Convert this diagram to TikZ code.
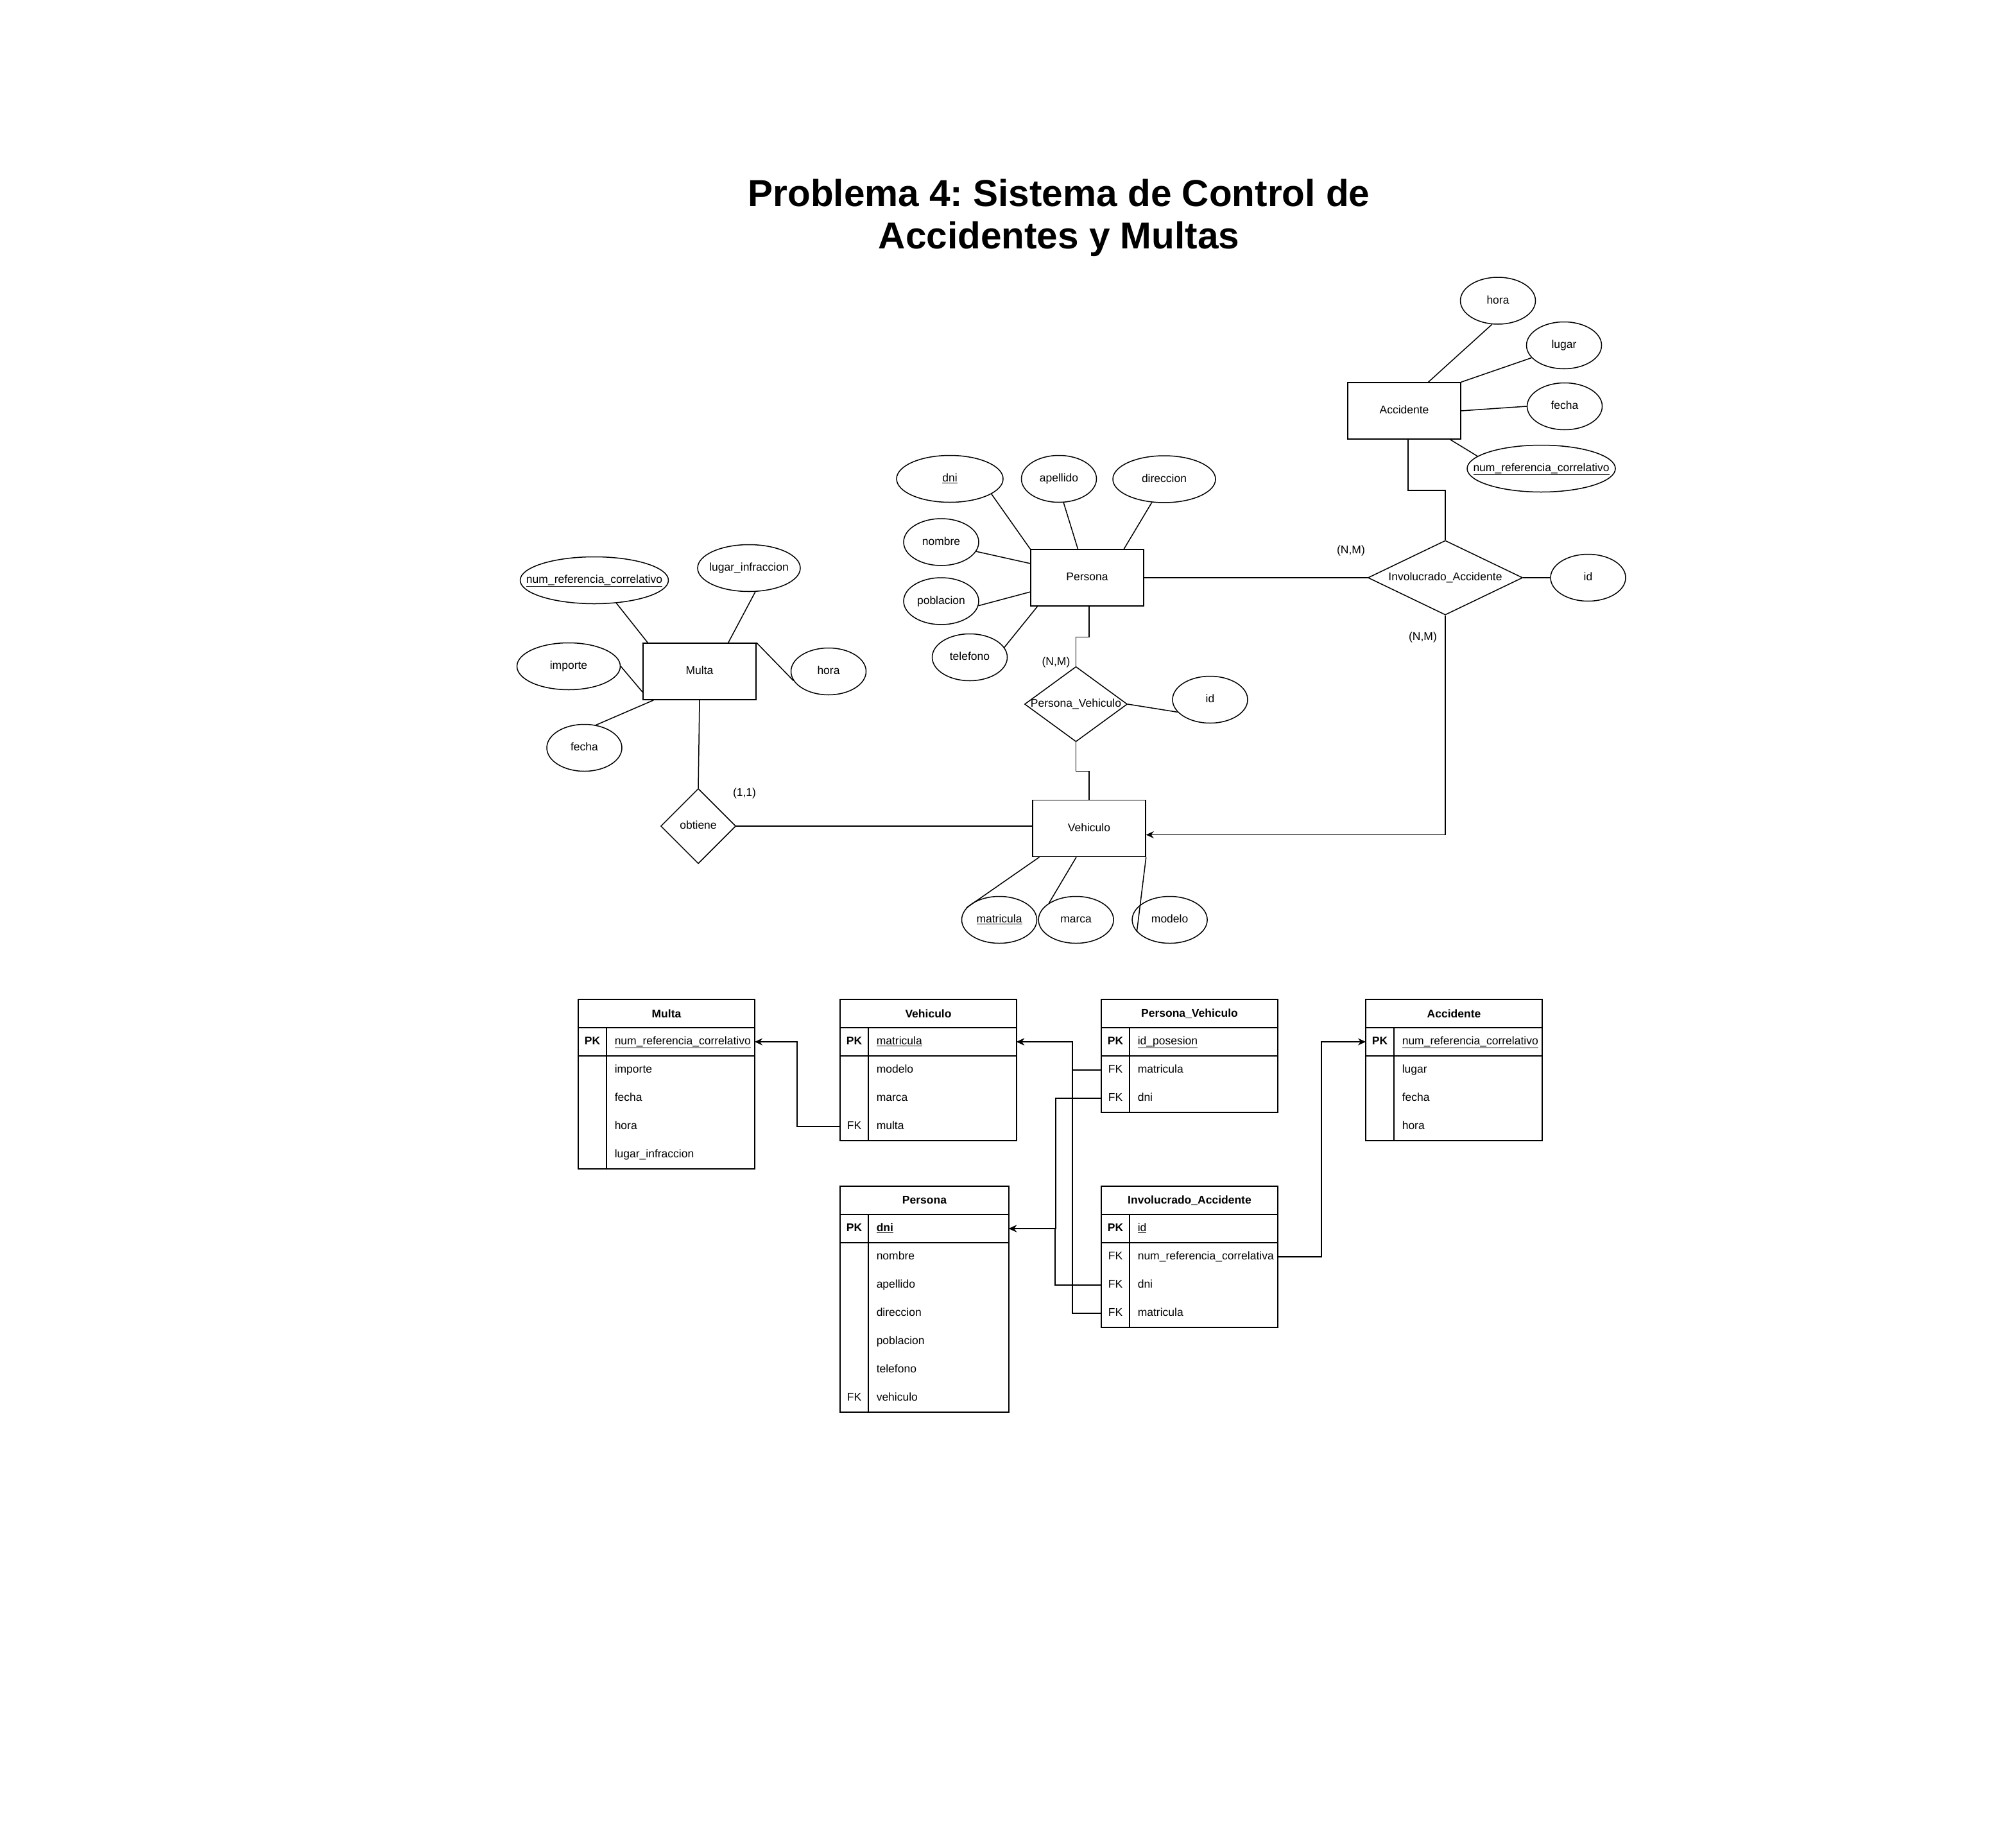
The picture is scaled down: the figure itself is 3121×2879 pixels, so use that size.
\documentclass[tikz,border=0pt]{standalone}
\usepackage{fontspec}
\setmainfont{Liberation Sans}
\frenchspacing
\usetikzlibrary{arrows.meta, positioning, shapes.geometric, calc}

\begin{document}
\begin{tikzpicture}[
    x=1pt, y=-1pt,
    line width=1.5pt,
    every node/.style={font=\fontsize{17.5}{21}\selectfont, align=center},
    entity/.style={draw, rectangle, fill=white, minimum width=176pt, minimum height=88pt,
                   inner sep=0pt, text height=13pt, text depth=4pt},
    attr/.style={draw, ellipse, fill=white, minimum width=117pt, minimum height=73pt,
                 inner sep=0pt, text height=13pt, text depth=4pt},
    rel/.style={draw, diamond, fill=white, inner sep=0pt, text height=13pt, text depth=4pt},
    card/.style={inner sep=0pt},
    tabhead/.style={draw, minimum width=275pt, minimum height=44pt, inner sep=0pt, outer sep=0pt,
                    font=\fontsize{17.5}{21}\selectfont\bfseries},
    keycell/.style={anchor=north west, minimum width=44pt, minimum height=44pt,
                    inner sep=0pt, outer sep=0pt, text height=13pt, text depth=4pt},
    fieldcell/.style={anchor=west, inner xsep=12pt, inner ysep=0pt,
                      text height=13pt, text depth=4pt},
    fk/.style={-{Stealth[length=12pt, width=11pt, inset=4pt]}}
]
\useasboundingbox (0,0) rectangle (3121,2879);

% title
\node[font=\fontsize{58.5}{66}\selectfont\bfseries, inner sep=0pt] (title) at (1650,339)
    {Problema 4: Sistema de Control de\\Accidentes y Multas};

% entities
\node[entity] (mu) at (1090,1046) {Multa};
\node[entity] (pe) at (1694,900) {Persona};
\node[entity] (ac) at (2188,640) {Accidente};
\node[entity] (ve) at (1697,1290.5) {Vehiculo};

% relationships
\node[rel, minimum width=117pt, minimum height=117pt] (ob) at (1088,1287) {obtiene};
\node[rel, minimum width=160pt, minimum height=117pt] (pv) at (1676.5,1097) {\makebox[0pt]{Persona\_Vehiculo}};
\node[rel, minimum width=241pt, minimum height=116pt] (ia) at (2252,900) {\makebox[0pt]{Involucrado\_Accidente}};

% attributes of Multa
\node[attr, minimum width=231pt] (mref) at (926,904) {\makebox[0pt]{\underline{num\_referencia\_correlativo}}};
\node[attr, minimum width=160pt] (mlug) at (1167,885) {\makebox[0pt]{lugar\_infraccion}};
\node[attr, minimum width=161pt] (mimp) at (886,1038) {importe};
\node[attr] (mhor) at (1291,1046) {hora};
\node[attr] (mfec) at (910.5,1165) {fecha};

% attributes of Persona
\node[attr, minimum width=166pt] (pdni) at (1480,746) {\underline{dni}};
\node[attr] (pape) at (1650,746) {apellido};
\node[attr, minimum width=160pt] (pdir) at (1814,746.5) {direccion};
\node[attr] (pnom) at (1466.5,844.5) {nombre};
\node[attr] (ppob) at (1466.5,936.5) {poblacion};
\node[attr] (ptel) at (1511,1024) {telefono};

% attributes of Accidente
\node[attr] (ahor) at (2334,468.5) {hora};
\node[attr] (alug) at (2437,538) {lugar};
\node[attr] (afec) at (2438,633) {fecha};
\node[attr, minimum width=231pt] (aref) at (2401.5,730) {\makebox[0pt]{\underline{num\_referencia\_correlativo}}};

% attributes of the relationships
\node[attr] (pvid) at (1885.5,1090) {id};
\node[attr] (iaid) at (2474.5,900) {id};

% attributes of Vehiculo
\node[attr] (vmat) at (1557,1433) {\underline{matricula}};
\node[attr] (vmar) at (1676.6,1433) {marca};
\node[attr] (vmod) at (1822.6,1433) {modelo};

% cardinalities
\node[card] (c1) at (1645.5,1032) {(N,M)};
\node[card] (c2) at (2105,858) {(N,M)};
\node[card] (c3) at (2217,993) {(N,M)};
\node[card] (c4) at (1160,1235.5) {(1,1)};

% attribute links
\draw (mref.-46) -- (mu.151);
\draw (mlug.-75) -- (mu.45);
\draw (mimp.east) -- (mu.-160);
\draw (mhor.-165) -- (mu.north east);
\draw (mfec.63) -- (mu.-148);
\draw (pdni.-20) -- (pe.north west);
\draw (pape.-79) -- (pe.108);
\draw (pdir.-118) -- (pe.38);
\draw (pnom.-15) -- (pe.166);
\draw (ppob.-7) -- (pe.-166);
\draw (ptel.16) -- (pe.-150);
\draw (ahor.-104) -- (ac.50);
\draw (alug.-159) -- (ac.north east);
\draw (afec.west) -- (ac.east);
\draw (aref.169) -- (ac.-32);
\draw (pv.east) -- (pvid.-159);
\draw (ia.east) -- (iaid.west);
\draw (ve.-150) -- (vmat.160);
\draw (ve.-114) -- (vmar.148);
\draw (ve.south east) -- (vmod.-160);

% relationship links
\draw (mu.south) -- (ob.north);
\draw (ob.east) -- (ve.west |- ob.east);
\draw ([xshift=3pt]pe.south) -- ++(0,47.5) -| (pv.north);
\draw (pv.south) -- ++(0,45) -| (ve.north);
\draw (pe.east) -- (ia.west);
\draw ([xshift=6pt]ac.south) -- ++(0,79) -| (ia.north);
\draw[fk] (ia.south) |- ([yshift=-10pt]ve.east);

% table Multa
\node[tabhead] (tmu) at (1038.5,1579) {Multa};
\node[keycell] (tmuk1) at (tmu.south west) {\textbf{PK}};
\node[fieldcell] at (tmuk1.east) {\underline{num\_referencia\_correlativo}};
\foreach \i/\k/\f in {2//importe, 3//fecha, 4//hora, 5//lugar\_infraccion} {
  \node[keycell] (tmuk\i) at ($(tmu.south west)+(0,44*\i-44)$) {\k};
  \node[fieldcell] at (tmuk\i.east) {\f};
}
\draw (tmu.south west) rectangle (tmuk5.south -| tmu.east);
\draw (tmuk1.north east) -- (tmuk5.south east);
\draw (tmuk1.south west) -- (tmuk1.south -| tmu.east);

% table Vehiculo
\node[tabhead] (tve) at (1446.5,1579) {Vehiculo};
\node[keycell] (tvek1) at (tve.south west) {\textbf{PK}};
\node[fieldcell] at (tvek1.east) {\underline{matricula}};
\foreach \i/\k/\f in {2//modelo, 3//marca, 4/FK/multa} {
  \node[keycell] (tvek\i) at ($(tve.south west)+(0,44*\i-44)$) {\k};
  \node[fieldcell] at (tvek\i.east) {\f};
}
\draw (tve.south west) rectangle (tvek4.south -| tve.east);
\draw (tvek1.north east) -- (tvek4.south east);
\draw (tvek1.south west) -- (tvek1.south -| tve.east);

% table Persona_Vehiculo
\node[tabhead] (tpv) at (1853.5,1579) {Persona\_Vehiculo};
\node[keycell] (tpvk1) at (tpv.south west) {\textbf{PK}};
\node[fieldcell] at (tpvk1.east) {\underline{id\_posesion}};
\foreach \i/\k/\f in {2/FK/matricula, 3/FK/dni} {
  \node[keycell] (tpvk\i) at ($(tpv.south west)+(0,44*\i-44)$) {\k};
  \node[fieldcell] at (tpvk\i.east) {\f};
}
\draw (tpv.south west) rectangle (tpvk3.south -| tpv.east);
\draw (tpvk1.north east) -- (tpvk3.south east);
\draw (tpvk1.south west) -- (tpvk1.south -| tpv.east);

% table Accidente
\node[tabhead] (tac) at (2265.5,1579) {Accidente};
\node[keycell] (tack1) at (tac.south west) {\textbf{PK}};
\node[fieldcell] at (tack1.east) {\underline{num\_referencia\_correlativo}};
\foreach \i/\k/\f in {2//lugar, 3//fecha, 4//hora} {
  \node[keycell] (tack\i) at ($(tac.south west)+(0,44*\i-44)$) {\k};
  \node[fieldcell] at (tack\i.east) {\f};
}
\draw (tac.south west) rectangle (tack4.south -| tac.east);
\draw (tack1.north east) -- (tack4.south east);
\draw (tack1.south west) -- (tack1.south -| tac.east);

% table Persona
\node[tabhead, minimum width=263pt] (tpe) at (1440.5,1870) {Persona};
\node[keycell] (tpek1) at (tpe.south west) {\textbf{PK}};
\node[fieldcell] at (tpek1.east) {\textbf{\underline{dni}}};
\foreach \i/\k/\f in {2//nombre, 3//apellido, 4//direccion, 5//poblacion, 6//telefono, 7/FK/vehiculo} {
  \node[keycell] (tpek\i) at ($(tpe.south west)+(0,44*\i-44)$) {\k};
  \node[fieldcell] at (tpek\i.east) {\f};
}
\draw (tpe.south west) rectangle (tpek7.south -| tpe.east);
\draw (tpek1.north east) -- (tpek7.south east);
\draw (tpek1.south west) -- (tpek1.south -| tpe.east);

% table Involucrado_Accidente
\node[tabhead] (tia) at (1853.5,1870) {Involucrado\_Accidente};
\node[keycell] (tiak1) at (tia.south west) {\textbf{PK}};
\node[fieldcell] at (tiak1.east) {\underline{id}};
\foreach \i/\k/\f in {2/FK/num\_referencia\_correlativa, 3/FK/dni, 4/FK/matricula} {
  \node[keycell] (tiak\i) at ($(tia.south west)+(0,44*\i-44)$) {\k};
  \node[fieldcell] at (tiak\i.east) {\f};
}
\draw (tia.south west) rectangle (tiak4.south -| tia.east);
\draw (tiak1.north east) -- (tiak4.south east);
\draw (tiak1.south west) -- (tiak1.south -| tia.east);

% foreign keys
\draw[fk] (tvek4.west) -- ++(-67,0) |- (tmuk1 -| tmu.east);
\draw[fk] (tpvk2.west) -- ++(-45,0) |- (tvek1 -| tve.east);
\draw[fk] (tiak4.west) -- ++(-45,0) |- (tvek1 -| tve.east);
\draw[fk] (tpvk3.west) -- ++(-71,0) |- (tpek1 -| tpe.east);
\draw[fk] (tiak3.west) -- ++(-72,0) |- (tpek1 -| tpe.east);
\draw[fk] (tiak2 -| tia.east) -- ++(68,0) |- (tack1.west);
\end{tikzpicture}
\end{document}
